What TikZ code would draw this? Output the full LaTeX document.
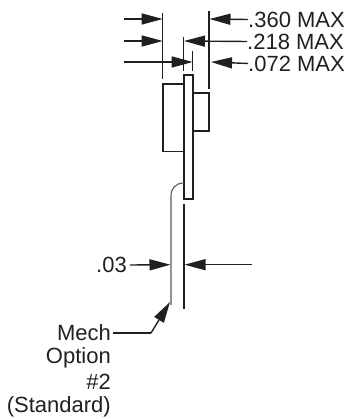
\documentclass[tikz,border=0pt]{standalone}
\usepackage{fontspec}
\setmainfont{Liberation Sans}
\usetikzlibrary{arrows.meta}
\definecolor{ink}{HTML}{231F20}
\tikzset{
  part/.style={draw=ink,line width=1.6pt},
  ext/.style={draw=ink,line width=1.4pt},
  dim/.style={draw=ink,line width=1.4pt,-{Triangle[length=21pt,width=11pt,fill=ink]}},
  lead/.style={draw=ink!75,line width=1.1pt},
  lab/.style={inner sep=0pt,text=ink,font=\fontsize{22}{24.6}\selectfont}
}
\begin{document}
\begin{tikzpicture}[x=1pt,y=-1pt]
\useasboundingbox (0,0) rectangle (351,419);
% body outlines
\draw[part] (184,84) -- (163,84) -- (163,151.5) -- (184,151.5);
\draw[part] (184,183) -- (184,75) -- (193,75) -- (193,199) -- (184,199) -- (184,183);
\draw[part] (193,93) -- (209,93) -- (209,131) -- (193,131);
\draw[lead] (184,183) .. controls (176,183) and (171,188) .. (171,196) -- (171,305);
% extension lines
\coordinate (e1t) at (162.7,13);  \coordinate (e1b) at (162.7,79);
\coordinate (e2t) at (183.7,37);  \coordinate (e2b) at (183.7,71);
\coordinate (e3t) at (192.7,51);  \coordinate (e3b) at (192.7,71);
\coordinate (e4t) at (209,11);    \coordinate (e4b) at (209,89);
\coordinate (e5t) at (184,204);   \coordinate (e5b) at (184,309);
\draw[ext] (e1t) -- (e1b);
\draw[ext] (e2t) -- (e2b);
\draw[ext] (e3t) -- (e3b);
\draw[ext] (e4t) -- (e4b);
\draw[ext] (e5t) -- (e5b);
% dimensions, upper
\coordinate (a1) at (124,19);  \coordinate (a1e) at (162.7,19);
\coordinate (a2) at (124,41);  \coordinate (a2e) at (162.7,41);
\coordinate (a3) at (124,62);  \coordinate (a3e) at (192.7,62);
\coordinate (b1e) at (209.5,19);
\coordinate (b2e) at (184,41);
\coordinate (b3e) at (211,62);
\node[lab,anchor=west] (t1) at (248,19.5) {.360 MAX};
\node[lab,anchor=west] (t2) at (247,41.5) {.218 MAX};
\node[lab,anchor=west] (t3) at (248,63.5) {.072 MAX};
\draw[dim] (a1) -- (a1e);
\draw[dim] (a2) -- (a2e);
\draw[dim] (a3) -- (a3e);
\draw[dim] (t1.west) -- (b1e);
\draw[dim] (t2.west) -- (b2e);
\draw[dim] (t3.west) -- (b3e);
% dimension, lower
\node[lab,anchor=east] (t4) at (127,265) {.03};
\coordinate (c1e) at (170.5,264.7);
\coordinate (c2) at (252,264.7);
\coordinate (c2e) at (184.5,264.7);
\draw[dim] (t4.east) ++(3,0) -- (c1e);
\draw[dim] (c2) -- (c2e);
% callout
\node[lab,anchor=east] (t5) at (111,333) {Mech};
\node[lab,anchor=east] (t6) at (111,357.5) {Option};
\node[lab,anchor=east] (t7) at (111,382) {\#2};
\node[lab,anchor=east] (t8) at (111,407) {(Standard)};
\coordinate (m1) at (151,333);
\coordinate (m2) at (170,302);
\draw[ext] (t5.east) ++(2,0) -- (m1);
\draw[dim] (m1) -- (m2);
\end{tikzpicture}
\end{document}
